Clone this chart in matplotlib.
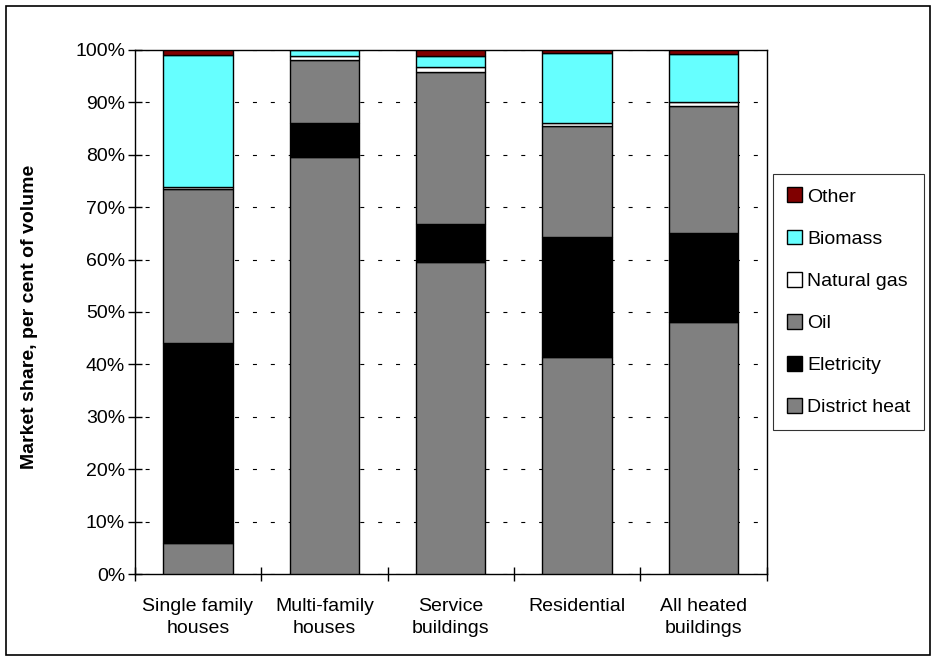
import matplotlib.pyplot as plt
import numpy as np
from matplotlib.patches import Rectangle

plt.rcParams['font.family'] = ['Liberation Sans', 'DejaVu Sans']

categories = ["Single family\nhouses", "Multi-family\nhouses", "Service\nbuildings",
              "Residential", "All heated\nbuildings"]

# market shares in per cent, bottom to top of each stack
district_heat = [6.0, 79.5, 59.5, 41.5, 48.0]
electricity = [38.0, 6.5, 7.3, 22.8, 17.0]
oil = [29.5, 12.0, 29.0, 21.2, 24.3]
natural_gas = [0.4, 0.9, 1.0, 0.5, 0.7]
biomass = [25.1, 1.1, 2.0, 13.4, 9.3]
other = [1.0, 0.0, 1.2, 0.6, 0.7]

series = [
    ("District heat", district_heat, "#808080"),
    ("Eletricity", electricity, "#000000"),
    ("Oil", oil, "#808080"),
    ("Natural gas", natural_gas, "#ffffff"),
    ("Biomass", biomass, "#66ffff"),
    ("Other", other, "#800000"),
]

FS = 14

fig = plt.figure(figsize=(9.36, 6.61), dpi=100)
ax = fig.add_axes([0.144, 0.1316, 0.675, 0.7928])

x = np.arange(len(categories))
bottom = np.zeros(len(categories))
handles = []
for name, vals, color in series:
    b = ax.bar(x, vals, width=0.55, bottom=bottom, color=color,
               edgecolor="black", linewidth=1, label=name, zorder=3)
    handles.append(b)
    bottom += np.array(vals)

ax.set_xlim(-0.5, len(categories) - 0.5)
ax.set_ylim(0, 100)
ax.set_yticks(np.arange(0, 101, 10))
ax.set_yticklabels([f"{v}%" for v in range(0, 101, 10)], fontsize=FS)
ax.yaxis.grid(True, color="black", linestyle=(7, (3.6, 12.5)), linewidth=0.8, zorder=0)

# category labels centred, ticks between the categories
ax.set_xticks(np.arange(-0.5, len(categories), 1.0))
ax.set_xticklabels([])
ax.set_xticks(x, minor=True)
ax.set_xticklabels(categories, minor=True, fontsize=FS)
for lbl in ax.get_xticklabels(minor=True):
    lbl.set_linespacing(1.45)
ax.tick_params(axis="x", which="major", direction="inout", length=10, width=1)
ax.tick_params(axis="x", which="minor", length=0, pad=17)
ax.tick_params(axis="y", direction="inout", length=10, width=1, pad=2)

for s in ax.spines.values():
    s.set_color("black")
    s.set_linewidth(1)

ax.set_ylabel("Market share, per cent of volume", fontsize=FS, fontweight="bold")
ax.yaxis.set_label_coords(-0.153, 0.49)

leg = ax.legend(handles[::-1], [s[0] for s in series][::-1],
                loc="upper left", bbox_to_anchor=(0.826, 0.737),
                bbox_transform=fig.transFigure, frameon=True, fancybox=False,
                edgecolor="black", fontsize=FS, handlelength=0.8, handleheight=0.8,
                handletextpad=0.25, labelspacing=1.23, borderpad=0.7,
                borderaxespad=0)
leg.get_frame().set_linewidth(0.8)

# border around the whole chart area
fig.patches.append(Rectangle((0.006, 0.009), 0.988, 0.982, transform=fig.transFigure,
                             fill=False, edgecolor="black", linewidth=1.2))

fig.savefig("out.png", dpi=100)
